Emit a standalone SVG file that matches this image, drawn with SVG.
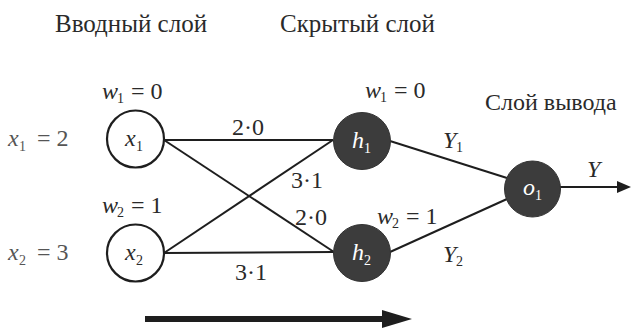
<svg xmlns="http://www.w3.org/2000/svg" width="631" height="328" viewBox="0 0 631 328">
<text x="55" y="32" font-family="Liberation Serif" font-size="25" fill="#2a2a2a">Вводный слой</text>
<text x="280" y="32" font-family="Liberation Serif" font-size="25" fill="#2a2a2a">Скрытый слой</text>
<text x="485" y="110" font-family="Liberation Serif" font-size="24" fill="#2a2a2a">Слой вывода</text>
<g id="connectors" stroke="#1e1e1e" stroke-width="2" fill="none">
<line x1="164" y1="140" x2="333" y2="140"/>
<line x1="164" y1="140" x2="334" y2="252"/>
<line x1="164" y1="253" x2="333" y2="140"/>
<line x1="164" y1="253" x2="334" y2="252"/>
<line x1="390" y1="141" x2="507" y2="178"/>
<line x1="390" y1="252" x2="507" y2="199"/>
<line x1="560" y1="187" x2="619" y2="187"/>
<polygon points="617,181 631,187 617,193" fill="#1e1e1e" stroke="none"/>
<line x1="145" y1="319" x2="384" y2="319" stroke-width="6"/>
<polygon points="382,310 412,319 382,328" fill="#1e1e1e" stroke="none"/>
</g>
<g id="x1">
<circle cx="135.5" cy="139" r="28.5" fill="#fff" stroke="#1e1e1e" stroke-width="2.2"/>
<text x="125" y="146" font-family="Liberation Serif" font-size="24" font-style="italic" fill="#2a2a2a">x</text>
<text x="136" y="151" font-family="Liberation Serif" font-size="14" fill="#2a2a2a">1</text>
</g>
<g id="x2">
<circle cx="135.5" cy="253" r="28.5" fill="#fff" stroke="#1e1e1e" stroke-width="2.2"/>
<text x="125" y="260" font-family="Liberation Serif" font-size="24" font-style="italic" fill="#2a2a2a">x</text>
<text x="136" y="265" font-family="Liberation Serif" font-size="14" fill="#2a2a2a">2</text>
</g>
<g id="h1">
<circle cx="362" cy="141" r="28.5" fill="#3c3c3c" stroke="#333" stroke-width="1"/>
<text x="352" y="148" font-family="Liberation Serif" font-size="24" font-style="italic" fill="#fff">h</text>
<text x="364" y="153" font-family="Liberation Serif" font-size="14" fill="#fff">1</text>
</g>
<g id="h2">
<circle cx="362" cy="253" r="28.5" fill="#3c3c3c" stroke="#333" stroke-width="1"/>
<text x="352" y="260" font-family="Liberation Serif" font-size="24" font-style="italic" fill="#fff">h</text>
<text x="364" y="265" font-family="Liberation Serif" font-size="14" fill="#fff">2</text>
</g>
<g id="o1">
<circle cx="532.5" cy="189" r="28" fill="#3c3c3c" stroke="#333" stroke-width="1"/>
<text x="523" y="195" font-family="Liberation Serif" font-size="24" font-style="italic" fill="#fff">o</text>
<text x="535" y="200" font-family="Liberation Serif" font-size="14" fill="#fff">1</text>
</g>
<g id="labels" fill="#2a2a2a">
<text x="102" y="99" font-family="Liberation Serif" font-size="24" font-style="italic">w</text>
<text x="117" y="103" font-family="Liberation Serif" font-size="14">1</text>
<text x="131" y="99" font-family="Liberation Serif" font-size="24">= 0</text>
<text x="102" y="213" font-family="Liberation Serif" font-size="24" font-style="italic">w</text>
<text x="117" y="217" font-family="Liberation Serif" font-size="14">2</text>
<text x="131" y="213" font-family="Liberation Serif" font-size="24">= 1</text>
<text x="365" y="98" font-family="Liberation Serif" font-size="24" font-style="italic">w</text>
<text x="380" y="102" font-family="Liberation Serif" font-size="14">1</text>
<text x="394" y="98" font-family="Liberation Serif" font-size="24">= 0</text>
<text x="377" y="224" font-family="Liberation Serif" font-size="24" font-style="italic">w</text>
<text x="392" y="228" font-family="Liberation Serif" font-size="14">2</text>
<text x="406" y="224" font-family="Liberation Serif" font-size="24">= 1</text>
<text x="232" y="135" font-family="Liberation Serif" font-size="24">2·0</text>
<text x="291" y="188" font-family="Liberation Serif" font-size="24">3·1</text>
<text x="295" y="225" font-family="Liberation Serif" font-size="24">2·0</text>
<text x="235" y="280" font-family="Liberation Serif" font-size="24">3·1</text>
<text x="443" y="148" font-family="Liberation Serif" font-size="24" font-style="italic">Y</text>
<text x="456" y="152" font-family="Liberation Serif" font-size="14">1</text>
<text x="443" y="262" font-family="Liberation Serif" font-size="24" font-style="italic">Y</text>
<text x="456" y="266" font-family="Liberation Serif" font-size="14">2</text>
<text x="587" y="177" font-family="Liberation Serif" font-size="24" font-style="italic">Y</text>
</g>
<g id="inputs" fill="#555">
<text x="8" y="146" font-family="Liberation Serif" font-size="24" font-style="italic">x</text>
<text x="19" y="151" font-family="Liberation Serif" font-size="14">1</text>
<text x="37" y="146" font-family="Liberation Serif" font-size="24">= 2</text>
<text x="8" y="260" font-family="Liberation Serif" font-size="24" font-style="italic">x</text>
<text x="19" y="265" font-family="Liberation Serif" font-size="14">2</text>
<text x="37" y="260" font-family="Liberation Serif" font-size="24">= 3</text>
</g>
</svg>
